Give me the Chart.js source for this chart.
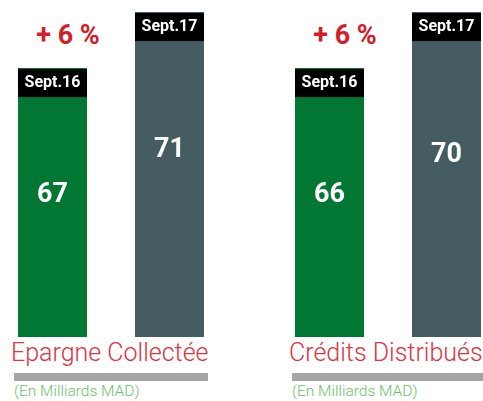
<!DOCTYPE html>
<html>
<head>
<meta charset="utf-8">
<script src="https://cdn.jsdelivr.net/npm/chart.js@4"></script>
<style>
  html, body { margin: 0; padding: 0; background: #fff; }
  body { width: 483px; height: 401px; position: relative; overflow: hidden; font-family: Roboto, sans-serif; }
  .chart-box { position: absolute; top: 0; width: 234px; height: 337px; }
  .growth { position: absolute; top: 19px; width: 100px; text-align: center; color: #d0202a; font: 700 27px Roboto, sans-serif; }
  .title { position: absolute; top: 338px; color: #d9363e; font: 300 25px Roboto, sans-serif; white-space: nowrap; }
  .rule { position: absolute; top: 373px; height: 8px; background: #a6a6a9; }
  .unit { position: absolute; top: 382px; color: #6dbf6a; font: 300 15.5px Roboto, sans-serif; white-space: nowrap; }
</style>
</head>
<body>
<div class="growth" id="growth-0" style="left:18px"></div>
<div class="growth" id="growth-1" style="left:295px"></div>
<div class="chart-box" style="left:-6px"><canvas id="chart-0"></canvas></div>
<div class="chart-box" style="left:271px"><canvas id="chart-1"></canvas></div>
<div class="title" id="title-0" style="left:11px"></div>
<div class="title" id="title-1" style="left:289px"></div>
<div class="rule" style="left:14px; width:194px"></div>
<div class="rule" style="left:292px; width:191px"></div>
<div class="unit" id="unit-0" style="left:14px"></div>
<div class="unit" id="unit-1" style="left:292px"></div>

<script>
const periods = ["Sept.16", "Sept.17"];
const epargneValues = [67, 71];
const creditValues = [66, 70];
const growthLabels = ["+ 6 %", "+ 6 %"];
const panelTitles = ["Epargne Collectée", "Crédits Distribués"];
const unitLabel = "(En Milliards MAD)";
const barColors = ["#017733", "#455d62"];

// bars are not drawn from zero in the original, so each panel gets its own range
const axisRanges = [
  { min: 47.8, max: 71.86 },
  { min: 46.8, max: 70.86 }
];

// where the value sits below the bar top, per panel and bar
const valueOffsets = [
  [127, 138],
  [127, 143]
];

function barLabels(panel) {
  return {
    id: "barLabels",
    afterDatasetsDraw(chart) {
      const ctx = chart.ctx;
      const meta = chart.getDatasetMeta(0);
      const values = chart.data.datasets[0].data;
      ctx.save();
      meta.data.forEach((bar, i) => {
        const left = bar.x - bar.width / 2;
        // black period tag on top of the bar
        ctx.fillStyle = "#000";
        ctx.fillRect(left, bar.y + 1, bar.width, 28);
        ctx.fillStyle = "#fff";
        ctx.textAlign = "center";
        ctx.textBaseline = "middle";
        ctx.font = "700 16px Roboto, sans-serif";
        ctx.fillText(chart.data.labels[i], bar.x, bar.y + 15);
        // value inside the bar
        ctx.font = "700 27px Roboto, sans-serif";
        ctx.fillText(values[i], bar.x, bar.y + valueOffsets[panel][i]);
      });
      ctx.restore();
    }
  };
}

function createChart(index, values) {
  document.getElementById("growth-" + index).textContent = growthLabels[index];
  document.getElementById("title-" + index).textContent = panelTitles[index];
  document.getElementById("unit-" + index).textContent = unitLabel;

  return new Chart(document.getElementById("chart-" + index), {
    type: "bar",
    data: {
      labels: periods,
      datasets: [
        {
          data: values,
          backgroundColor: barColors,
          borderWidth: 0,
          categoryPercentage: 1,
          barPercentage: 0.59
        }
      ]
    },
    options: {
      responsive: true,
      maintainAspectRatio: false,
      animation: false,
      layout: { padding: 0 },
      plugins: { legend: { display: false }, tooltip: { enabled: false } },
      scales: {
        x: { display: false },
        y: { display: false, min: axisRanges[index].min, max: axisRanges[index].max }
      }
    },
    plugins: [barLabels(index)]
  });
}

createChart(0, epargneValues);
createChart(1, creditValues);
</script>
</body>
</html>
